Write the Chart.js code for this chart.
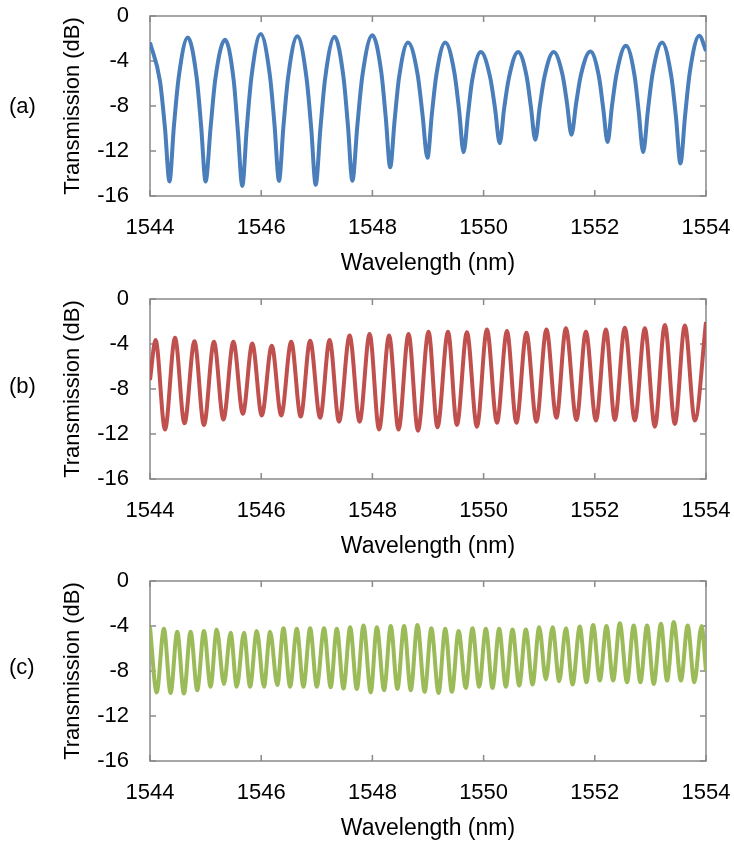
<!DOCTYPE html>
<html>
<head>
<meta charset="utf-8">
<title>Transmission spectra</title>
<script src="https://cdn.jsdelivr.net/npm/chart.js@4.4.1/dist/chart.umd.min.js"></script>
<style>
  html, body { margin: 0; padding: 0; background: #fff; overflow: hidden; }
  body { position: relative; width: 734px; height: 841px; }
  canvas { position: absolute; left: 0; }
  .tag { position: absolute; left: 9px; font: 22px "Liberation Sans", Arial, sans-serif; line-height: 26px; color: #000; }
</style>
</head>
<body>
<canvas id="spectrumA" width="734" height="283" style="top:0"></canvas>
<canvas id="spectrumB" width="734" height="283" style="top:283px"></canvas>
<canvas id="spectrumC" width="734" height="283" style="top:565px"></canvas>
<div class="tag" style="top:93px">(a)</div>
<div class="tag" style="top:373px">(b)</div>
<div class="tag" style="top:654px">(c)</div>

<script>
  // Axis ticks shared by all three panels
  const wavelengthTicks = [1544, 1546, 1548, 1550, 1552, 1554];
  const transmissionTicks = [0, -4, -8, -12, -16];

  // (a) wavelength (nm) / transmission (dB)
  const wavelengthA = [
    1544.00,
    1544.18, 1544.27, 1544.35, 1544.43, 1544.515, 1544.68,
    1544.84, 1544.92, 1545.00, 1545.09, 1545.175, 1545.35,
    1545.505, 1545.58, 1545.66, 1545.74, 1545.825, 1545.99,
    1546.155, 1546.24, 1546.32, 1546.40, 1546.485, 1546.65,
    1546.815, 1546.90, 1546.98, 1547.065, 1547.15, 1547.32,
    1547.48, 1547.56, 1547.64, 1547.73, 1547.82, 1548.00,
    1548.16, 1548.24, 1548.32, 1548.40, 1548.48, 1548.64,
    1548.815, 1548.90, 1548.99, 1549.07, 1549.15, 1549.31,
    1549.475, 1549.56, 1549.64, 1549.72, 1549.795, 1549.95,
    1550.12, 1550.205, 1550.29, 1550.37, 1550.455, 1550.62,
    1550.775, 1550.85, 1550.93, 1551.01, 1551.095, 1551.26,
    1551.42, 1551.50, 1551.58, 1551.665, 1551.75, 1551.92,
    1552.075, 1552.15, 1552.23, 1552.31, 1552.395, 1552.56,
    1552.715, 1552.79, 1552.87, 1552.955, 1553.04, 1553.21,
    1553.375, 1553.46, 1553.54, 1553.625, 1553.71, 1553.88,
    1554.00
  ];
  const transmissionA = [
    -2.35,
    -5.8, -10.0, -14.7, -9.8, -5.5, -1.9,
    -5.5, -9.8, -14.7, -9.9, -5.6, -2.1,
    -5.7, -10.2, -15.1, -10.0, -5.4, -1.6,
    -5.25, -9.7, -14.65, -9.8, -5.4, -1.8,
    -5.5, -10.0, -15.0, -10.0, -5.55, -1.85,
    -5.45, -9.75, -14.65, -9.7, -5.3, -1.7,
    -5.0, -9.0, -13.45, -9.25, -5.45, -2.35,
    -5.25, -8.7, -12.6, -8.7, -5.25, -2.35,
    -5.05, -8.4, -12.1, -8.7, -5.7, -3.2,
    -5.5, -8.2, -11.3, -8.2, -5.5, -3.2,
    -5.4, -8.05, -11.0, -8.05, -5.4, -3.2,
    -5.25, -7.75, -10.55, -7.75, -5.25, -3.15,
    -5.4, -8.15, -11.2, -7.95, -5.05, -2.65,
    -5.3, -8.5, -12.1, -8.4, -5.1, -2.35,
    -5.35, -9.0, -13.1, -8.8, -4.95, -1.75,
    -3.1
  ];

  // (b) peaks and dips
  const wavelengthB = [
    1544.00,
    1544.10, 1544.27, 1544.45, 1544.62, 1544.80, 1544.97, 1545.15, 1545.32,
    1545.50, 1545.67, 1545.84, 1546.01, 1546.19, 1546.36, 1546.54, 1546.71,
    1546.88, 1547.06, 1547.23, 1547.40, 1547.59, 1547.77, 1547.95, 1548.12,
    1548.30, 1548.47, 1548.65, 1548.82, 1549.01, 1549.17, 1549.36, 1549.52,
    1549.70, 1549.88, 1550.06, 1550.24, 1550.42, 1550.59, 1550.77, 1550.95,
    1551.13, 1551.31, 1551.48, 1551.67, 1551.84, 1552.02, 1552.20, 1552.36,
    1552.54, 1552.72, 1552.90, 1553.08, 1553.26, 1553.44, 1553.62, 1553.80,
    1554.00
  ];
  const transmissionB = [
    -7.2,
    -3.65, -11.6, -3.45, -11.05, -3.75, -11.2, -3.8, -10.7,
    -3.8, -10.2, -3.95, -10.35, -4.15, -10.35, -3.8, -10.45,
    -3.7, -10.55, -3.65, -10.9, -3.25, -10.9, -3.1, -11.6,
    -3.25, -11.6, -3.1, -11.7, -2.9, -11.4, -2.9, -11.2,
    -2.95, -11.35, -2.7, -11.0, -2.85, -11.0, -3.0, -10.9,
    -2.7, -10.55, -2.6, -10.75, -2.9, -10.8, -2.7, -10.75,
    -2.55, -10.8, -2.6, -11.35, -2.3, -11.1, -2.35, -10.8,
    -2.05
  ];

  // (c) peaks and dips
  const wavelengthC = [
    1544.00,
    1544.12, 1544.25, 1544.37, 1544.49, 1544.61, 1544.73, 1544.85, 1544.97,
    1545.09, 1545.20, 1545.33, 1545.45, 1545.56, 1545.69, 1545.80, 1545.92,
    1546.05, 1546.16, 1546.29, 1546.40, 1546.52, 1546.64, 1546.76, 1546.88,
    1547.00, 1547.13, 1547.25, 1547.36, 1547.48, 1547.60, 1547.72, 1547.84,
    1547.97, 1548.08, 1548.21, 1548.33, 1548.45, 1548.57, 1548.69, 1548.81,
    1548.94, 1549.06, 1549.19, 1549.31, 1549.43, 1549.55, 1549.68, 1549.80,
    1549.92, 1550.04, 1550.16, 1550.28, 1550.40, 1550.52, 1550.64, 1550.76,
    1550.88, 1551.00, 1551.12, 1551.24, 1551.36, 1551.48, 1551.60, 1551.73,
    1551.85, 1551.97, 1552.09, 1552.21, 1552.33, 1552.45, 1552.58, 1552.70,
    1552.82, 1552.94, 1553.06, 1553.19, 1553.30, 1553.42, 1553.55, 1553.67,
    1553.79, 1553.92,
    1554.00
  ];
  const transmissionC = [
    -4.1,
    -9.9, -4.25, -9.95, -4.5, -10.0, -4.5, -9.7, -4.45,
    -9.4, -4.3, -9.15, -4.6, -9.4, -4.6, -9.4, -4.45,
    -9.4, -4.5, -9.25, -4.2, -9.4, -4.25, -9.4, -4.2,
    -9.4, -4.2, -9.45, -4.25, -9.55, -4.1, -9.6, -3.95,
    -9.9, -4.1, -9.7, -4.0, -9.6, -4.0, -9.7, -3.9,
    -9.85, -4.2, -9.95, -4.25, -9.85, -4.45, -9.5, -4.2,
    -9.4, -4.25, -9.5, -4.25, -9.4, -4.3, -9.3, -4.3,
    -9.2, -4.1, -8.75, -4.1, -8.9, -4.2, -9.2, -4.05,
    -9.0, -3.9, -8.85, -4.0, -8.85, -3.75, -9.0, -3.95,
    -9.0, -3.95, -9.15, -3.8, -8.85, -3.65, -8.85, -3.95,
    -9.0, -4.0,
    -8.0
  ];

  const axisGrey = '#898989';
  const fontFamily = '"Liberation Sans", Arial, sans-serif';

  // Plot box with tick marks pointing inward on all four sides
  const frameTicks = {
    id: 'frameTicks',
    beforeDatasetsDraw(chart) {
      const { ctx, chartArea: a, scales: { x, y } } = chart;
      const len = 6;
      ctx.save();
      ctx.strokeStyle = axisGrey;
      ctx.lineWidth = 1.5;
      ctx.strokeRect(a.left, a.top, a.right - a.left, a.bottom - a.top);
      ctx.beginPath();
      wavelengthTicks.forEach(v => {
        const px = x.getPixelForValue(v);
        ctx.moveTo(px, a.bottom); ctx.lineTo(px, a.bottom - len);
        ctx.moveTo(px, a.top); ctx.lineTo(px, a.top + len);
      });
      transmissionTicks.forEach(v => {
        const py = y.getPixelForValue(v);
        ctx.moveTo(a.left, py); ctx.lineTo(a.left + len, py);
        ctx.moveTo(a.right, py); ctx.lineTo(a.right - len, py);
      });
      ctx.stroke();
      ctx.restore();
    }
  };

  function makeSpectrum(canvasId, wavelengths, values, color) {
    const ctx = document.getElementById(canvasId).getContext('2d');
    return new Chart(ctx, {
      type: 'line',
      data: {
        datasets: [{
          data: wavelengths.map((w, i) => ({ x: w, y: values[i] })),
          borderColor: color,
          borderWidth: 4,
          pointRadius: 0,
          cubicInterpolationMode: 'monotone',
          fill: false
        }]
      },
      options: {
        responsive: false,
        animation: false,
        devicePixelRatio: 1,
        layout: { padding: { top: 16, right: 28, bottom: 0, left: 0 } },
        plugins: { legend: { display: false }, tooltip: { enabled: false } },
        scales: {
          x: {
            type: 'linear',
            min: 1544,
            max: 1554,
            afterBuildTicks: s => { s.ticks = wavelengthTicks.map(v => ({ value: v })); },
            // fixed height, and no extra room reserved for the end labels
            afterFit: s => { s.height = 87; s.paddingLeft = 0; s.paddingRight = 0; },
            grid: { display: false, drawTicks: false },
            border: { display: false },
            ticks: {
              padding: 19,
              color: '#000',
              maxRotation: 0,
              autoSkip: false,
              font: { family: fontFamily, size: 22 },
              callback: v => String(v)
            },
            title: {
              display: true,
              text: 'Wavelength (nm)',
              color: '#000',
              font: { family: fontFamily, size: 23 },
              padding: { top: 0, bottom: 6 }
            }
          },
          y: {
            min: -16,
            max: 0,
            afterBuildTicks: s => { s.ticks = transmissionTicks.map(v => ({ value: v })); },
            afterFit: s => { s.width = 150; s.paddingTop = 0; s.paddingBottom = 0; },
            grid: { display: false, drawTicks: false },
            border: { display: false },
            ticks: {
              padding: 21,
              color: '#000',
              font: { family: fontFamily, size: 22 },
              callback: v => String(v)
            },
            title: {
              display: true,
              text: 'Transmission (dB)',
              color: '#000',
              font: { family: fontFamily, size: 22 },
              padding: { top: 60, bottom: 0 }
            }
          }
        }
      },
      plugins: [frameTicks]
    });
  }

  makeSpectrum('spectrumA', wavelengthA, transmissionA, '#4a7ebb');
  makeSpectrum('spectrumB', wavelengthB, transmissionB, '#c0504d');
  makeSpectrum('spectrumC', wavelengthC, transmissionC, '#9bbb59');
</script>
</body>
</html>
